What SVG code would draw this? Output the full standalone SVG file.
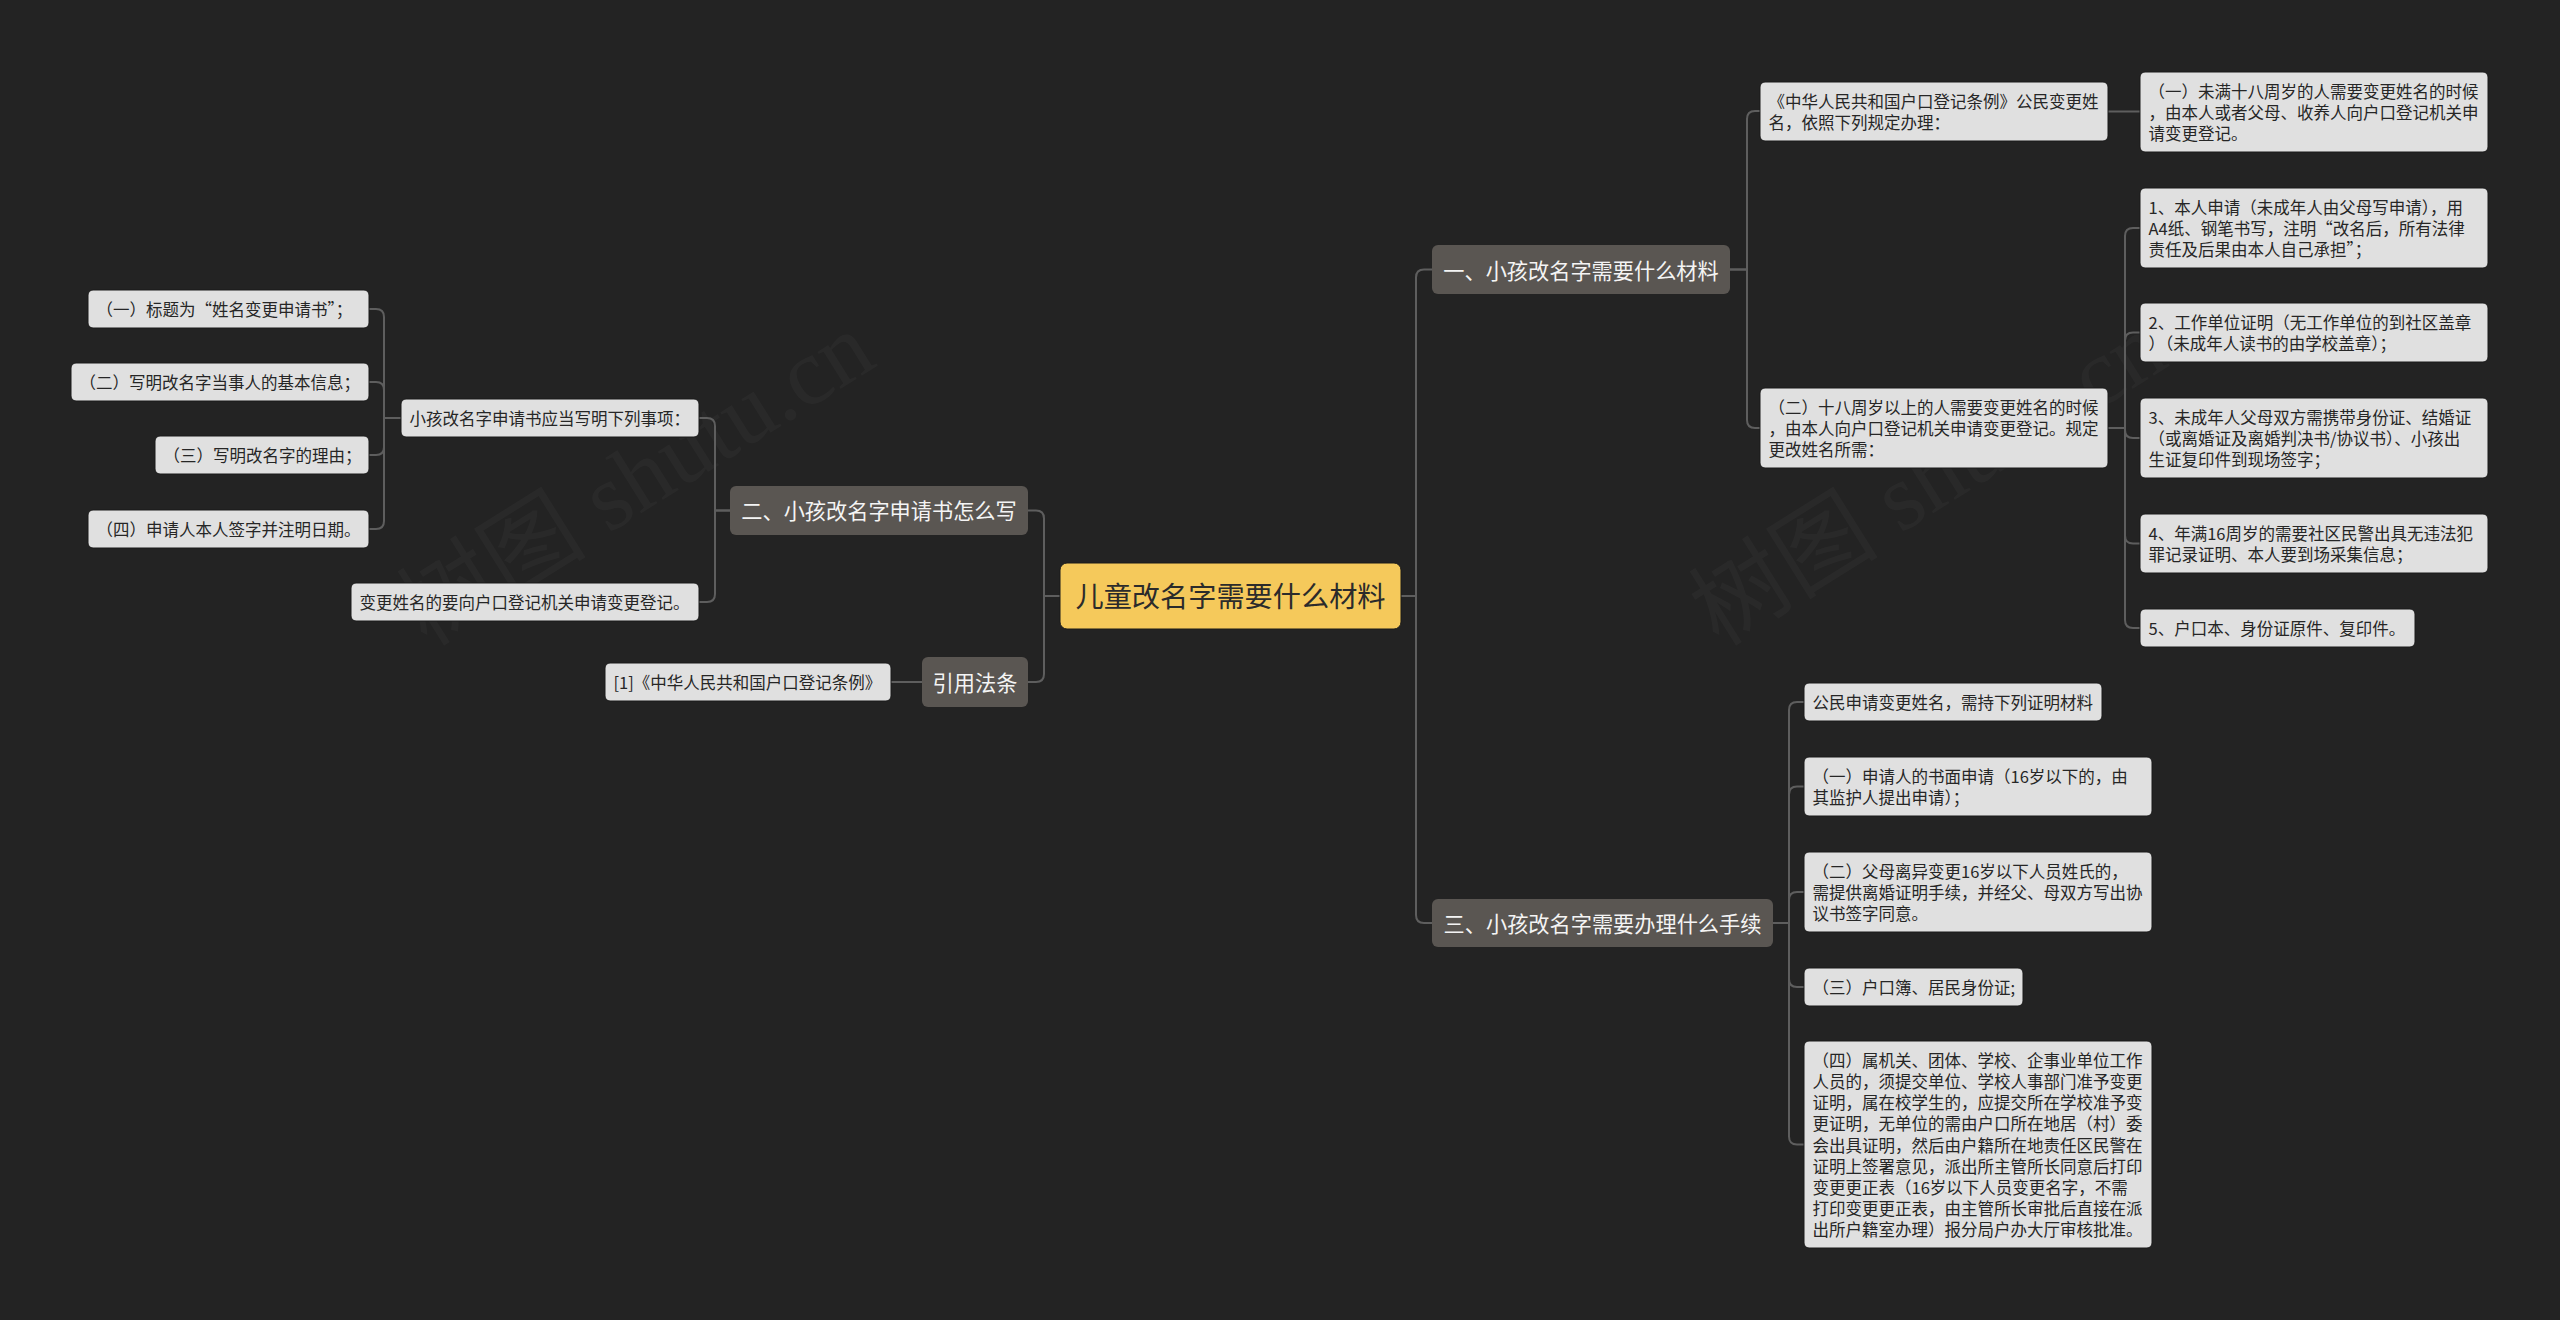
<svg xmlns="http://www.w3.org/2000/svg" width="2560" height="1320" viewBox="0 0 2560 1320">
<style>
.bg{fill:#232323}
.leaf rect{fill:#e0e0e0;stroke:#1a1a1a;stroke-width:1}
.leaf text{font-family:"Noto Sans CJK SC","Noto Sans",sans-serif;font-size:16.5px;fill:#262626}
.branch rect{fill:#5a5652}
.branch text{font-family:"Noto Sans CJK SC","Noto Sans",sans-serif;font-size:21.2px;fill:#f4f4f4;text-anchor:middle}
.root rect{fill:#f5c95b;stroke:#1a1a1a;stroke-width:1}
.root text{font-family:"Noto Sans CJK SC","Noto Sans",sans-serif;font-size:28.2px;fill:#2b2b2b;text-anchor:middle}
.conn path{fill:none;stroke:#5e5e5e;stroke-width:2}
.wm{font-family:"Liberation Serif","Noto Sans CJK SC",serif;font-size:95px;fill:#ffffff;opacity:0.028;text-anchor:middle}
</style>
<rect class="bg" x="0" y="0" width="2560" height="1320"/>
<text class="wm" transform="translate(653,506) rotate(-32)">树图 shutu.cn</text>
<text class="wm" transform="translate(1945,506) rotate(-32)">树图 shutu.cn</text>
<g id="connectors" class="conn">
<path d="M1401,596 H1416 V277.5 Q1416,269.5 1424,269.5 H1432"/>
<path d="M1401,596 H1416 V915 Q1416,923 1424,923 H1432"/>
<path d="M1730,269.5 H1747 V119 Q1747,111 1755,111 H1760"/>
<path d="M1730,269.5 H1747 V420 Q1747,428 1755,428 H1760"/>
<path d="M2108,111.5 H2140"/>
<path d="M2108,428 H2125 V236 Q2125,228 2133,228 H2140"/>
<path d="M2108,428 H2125 V340.5 Q2125,332.5 2133,332.5 H2140"/>
<path d="M2108,428 H2125 V430 Q2125,438 2133,438 H2140"/>
<path d="M2108,428 H2125 V535.5 Q2125,543.5 2133,543.5 H2140"/>
<path d="M2108,428 H2125 V620 Q2125,628 2133,628 H2140"/>
<path d="M1773,923 H1789 V710 Q1789,702 1797,702 H1804"/>
<path d="M1773,923 H1789 V794.5 Q1789,786.5 1797,786.5 H1804"/>
<path d="M1773,923 H1789 V900 Q1789,892 1797,892 H1804"/>
<path d="M1773,923 H1789 V979 Q1789,987 1797,987 H1804"/>
<path d="M1773,923 H1789 V1136.5 Q1789,1144.5 1797,1144.5 H1804"/>
<path d="M1060,596 H1044 V518.5 Q1044,510.5 1036,510.5 H1028"/>
<path d="M1060,596 H1044 V674 Q1044,682 1036,682 H1028"/>
<path d="M730,510.5 H715 V426 Q715,418 707,418 H699"/>
<path d="M730,510.5 H715 V594 Q715,602 707,602 H699"/>
<path d="M922,682 H891"/>
<path d="M401,418 H384 V317 Q384,309 376,309 H369"/>
<path d="M401,418 H384 V390 Q384,382 376,382 H369"/>
<path d="M401,418 H384 V447 Q384,455 376,455 H369"/>
<path d="M401,418 H384 V521 Q384,529 376,529 H369"/>
</g>
<g id="root" class="root"><rect x="1060" y="563" width="341" height="66" rx="7"/><text x="1230.5" y="606.5">儿童改名字需要什么材料</text></g>
<g id="b1" class="branch"><rect x="1432" y="245" width="298" height="49" rx="6"/><text x="1581" y="278.5">一、小孩改名字需要什么材料</text></g>
<g id="b3" class="branch"><rect x="1432" y="899" width="341" height="48" rx="6"/><text x="1602.5" y="931.5">三、小孩改名字需要办理什么手续</text></g>
<g id="b2" class="branch"><rect x="730" y="486" width="298" height="49" rx="6"/><text x="879" y="519">二、小孩改名字申请书怎么写</text></g>
<g id="b4" class="branch"><rect x="922" y="657" width="106" height="50" rx="6"/><text x="975" y="690.5">引用法条</text></g>
<g id="n11" class="leaf"><rect x="1760" y="82" width="348" height="59" rx="5"/><text x="1768.5" y="107.8"><tspan x="1768.5">《中华人民共和国户口登记条例》公民变更姓</tspan><tspan x="1768.5" dy="21.2">名，依照下列规定办理：</tspan></text></g>
<g id="n111" class="leaf"><rect x="2140" y="72" width="348" height="80" rx="5"/><text x="2148.5" y="97.8"><tspan x="2148.5">（一）未满十八周岁的人需要变更姓名的时候</tspan><tspan x="2148.5" dy="21.2">，由本人或者父母、收养人向户口登记机关申</tspan><tspan x="2148.5" dy="21.2">请变更登记。</tspan></text></g>
<g id="n12" class="leaf"><rect x="1760" y="388" width="348" height="80" rx="5"/><text x="1768.5" y="413.8"><tspan x="1768.5">（二）十八周岁以上的人需要变更姓名的时候</tspan><tspan x="1768.5" dy="21.2">，由本人向户口登记机关申请变更登记。规定</tspan><tspan x="1768.5" dy="21.2">更改姓名所需：</tspan></text></g>
<g id="n121" class="leaf"><rect x="2140" y="188" width="348" height="80" rx="5"/><text x="2148.5" y="213.8"><tspan x="2148.5">1、本人申请（未成年人由父母写申请），用</tspan><tspan x="2148.5" dy="21.2">A4纸、钢笔书写，注明“改名后，所有法律</tspan><tspan x="2148.5" dy="21.2">责任及后果由本人自己承担”；</tspan></text></g>
<g id="n122" class="leaf"><rect x="2140" y="303" width="348" height="59" rx="5"/><text x="2148.5" y="328.8"><tspan x="2148.5">2、工作单位证明（无工作单位的到社区盖章</tspan><tspan x="2148.5" dy="21.2">）（未成年人读书的由学校盖章）；</tspan></text></g>
<g id="n123" class="leaf"><rect x="2140" y="398" width="348" height="80" rx="5"/><text x="2148.5" y="423.8"><tspan x="2148.5">3、未成年人父母双方需携带身份证、结婚证</tspan><tspan x="2148.5" dy="21.2">（或离婚证及离婚判决书/协议书）、小孩出</tspan><tspan x="2148.5" dy="21.2">生证复印件到现场签字；</tspan></text></g>
<g id="n124" class="leaf"><rect x="2140" y="514" width="348" height="59" rx="5"/><text x="2148.5" y="539.8"><tspan x="2148.5">4、年满16周岁的需要社区民警出具无违法犯</tspan><tspan x="2148.5" dy="21.2">罪记录证明、本人要到场采集信息；</tspan></text></g>
<g id="n125" class="leaf"><rect x="2140" y="609" width="275" height="38" rx="5"/><text x="2148.5" y="634.8">5、户口本、身份证原件、复印件。</text></g>
<g id="n31" class="leaf"><rect x="1804" y="683" width="298" height="38" rx="5"/><text x="1812.5" y="708.8">公民申请变更姓名，需持下列证明材料</text></g>
<g id="n32" class="leaf"><rect x="1804" y="757" width="348" height="59" rx="5"/><text x="1812.5" y="782.8"><tspan x="1812.5">（一）申请人的书面申请（16岁以下的，由</tspan><tspan x="1812.5" dy="21.2">其监护人提出申请）；</tspan></text></g>
<g id="n33" class="leaf"><rect x="1804" y="852" width="348" height="80" rx="5"/><text x="1812.5" y="877.8"><tspan x="1812.5">（二）父母离异变更16岁以下人员姓氏的，</tspan><tspan x="1812.5" dy="21.2">需提供离婚证明手续，并经父、母双方写出协</tspan><tspan x="1812.5" dy="21.2">议书签字同意。</tspan></text></g>
<g id="n34" class="leaf"><rect x="1804" y="968" width="219" height="38" rx="5"/><text x="1812.5" y="993.8">（三）户口簿、居民身份证;</text></g>
<g id="n35" class="leaf"><rect x="1804" y="1041" width="348" height="207" rx="5"/><text x="1812.5" y="1066.8"><tspan x="1812.5">（四）属机关、团体、学校、企事业单位工作</tspan><tspan x="1812.5" dy="21.2">人员的，须提交单位、学校人事部门准予变更</tspan><tspan x="1812.5" dy="21.2">证明，属在校学生的，应提交所在学校准予变</tspan><tspan x="1812.5" dy="21.2">更证明，无单位的需由户口所在地居（村）委</tspan><tspan x="1812.5" dy="21.2">会出具证明，然后由户籍所在地责任区民警在</tspan><tspan x="1812.5" dy="21.2">证明上签署意见，派出所主管所长同意后打印</tspan><tspan x="1812.5" dy="21.2">变更更正表（16岁以下人员变更名字，不需</tspan><tspan x="1812.5" dy="21.2">打印变更更正表，由主管所长审批后直接在派</tspan><tspan x="1812.5" dy="21.2">出所户籍室办理）报分局户办大厅审核批准。</tspan></text></g>
<g id="n21" class="leaf"><rect x="401" y="399" width="298" height="38" rx="5"/><text x="409.5" y="424.8">小孩改名字申请书应当写明下列事项：</text></g>
<g id="n211" class="leaf"><rect x="88" y="290" width="281" height="38" rx="5"/><text x="96.5" y="315.8">（一）标题为“姓名变更申请书”；</text></g>
<g id="n212" class="leaf"><rect x="71" y="363" width="298" height="38" rx="5"/><text x="79.5" y="388.8">（二）写明改名字当事人的基本信息；</text></g>
<g id="n213" class="leaf"><rect x="155" y="436" width="214" height="38" rx="5"/><text x="163.5" y="461.8">（三）写明改名字的理由；</text></g>
<g id="n214" class="leaf"><rect x="88" y="510" width="281" height="38" rx="5"/><text x="96.5" y="535.8">（四）申请人本人签字并注明日期。</text></g>
<g id="n22" class="leaf"><rect x="351" y="583" width="348" height="38" rx="5"/><text x="359.5" y="608.8">变更姓名的要向户口登记机关申请变更登记。</text></g>
<g id="n41" class="leaf"><rect x="605" y="663" width="286" height="38" rx="5"/><text x="613.5" y="688.8">[1]《中华人民共和国户口登记条例》</text></g>
</svg>
